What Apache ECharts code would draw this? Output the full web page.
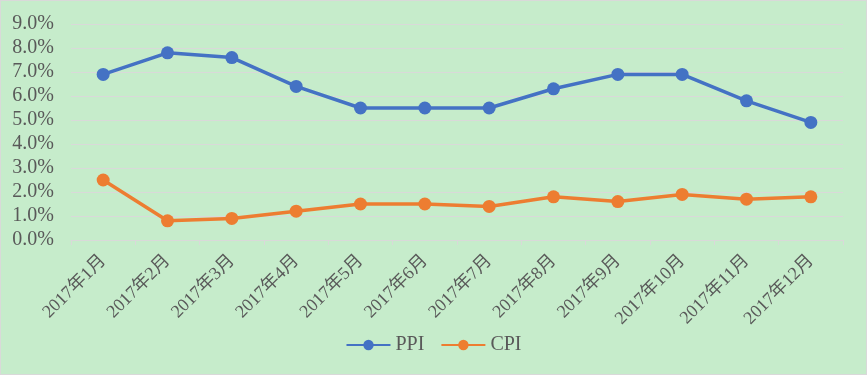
<!DOCTYPE html>
<html><head><meta charset="utf-8">
<script src="https://cdn.jsdelivr.net/npm/echarts@6/dist/echarts.min.js"></script>
<style>
html,body{margin:0;padding:0;background:#C6ECCB;}
#c{width:865px;height:373px;border:1px solid #D9D9D9;background:#C6ECCB;}
</style></head>
<body><div id="c"></div>
<script>
const categories = ['2017年1月','2017年2月','2017年3月','2017年4月','2017年5月','2017年6月','2017年7月','2017年8月','2017年9月','2017年10月','2017年11月','2017年12月'];
const ppi = [6.9,7.8,7.6,6.4,5.5,5.5,5.5,6.3,6.9,6.9,5.8,4.9];
const cpi = [2.5,0.8,0.9,1.2,1.5,1.5,1.4,1.8,1.6,1.9,1.7,1.8];
const seriesNames = ['PPI','CPI'];
const font = '"Liberation Serif","Times New Roman","Noto Sans CJK SC",serif';
const chart = echarts.init(document.getElementById('c'));
chart.setOption({
  backgroundColor:'#C6ECCB',
  animation:false,
  grid:{left:70,right:23,top:23,bottom:134,containLabel:false},
  legend:{
    bottom:14,left:'center',itemWidth:44,itemHeight:13,itemGap:16,
    textStyle:{fontFamily:font,fontSize:20,color:'#595959'},
    data:seriesNames
  },
  xAxis:{
    type:'category',data:categories,boundaryGap:true,
    axisLine:{lineStyle:{color:'#D9D9D9',width:1}},
    axisTick:{show:true,length:5,lineStyle:{color:'#D9D9D9'}},
    axisLabel:{rotate:45,interval:0,fontFamily:font,fontSize:18,color:'#595959',margin:18}
  },
  yAxis:{
    type:'value',min:0,max:9,interval:1,
    axisLine:{show:false},axisTick:{show:false},
    splitLine:{lineStyle:{color:'#D9D9D9',width:1}},
    axisLabel:{formatter:v=>v.toFixed(1)+'%',fontFamily:font,fontSize:20,color:'#595959',margin:17}
  },
  series:[
    {name:seriesNames[0],type:'line',data:ppi,symbol:'circle',symbolSize:13,
     lineStyle:{width:3.5,color:'#4472C4'},itemStyle:{color:'#4472C4'}},
    {name:seriesNames[1],type:'line',data:cpi,symbol:'circle',symbolSize:13,
     lineStyle:{width:3.5,color:'#ED7D31'},itemStyle:{color:'#ED7D31'}}
  ]
});
</script></body></html>
